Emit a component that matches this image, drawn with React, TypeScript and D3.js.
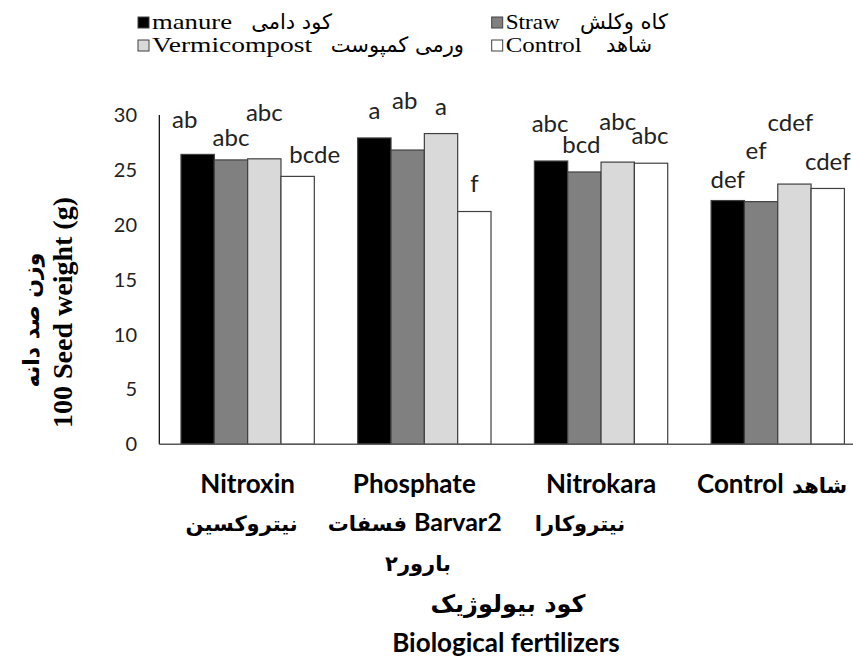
import React from 'react';
import * as d3 from 'd3';

const categories = ['Nitroxin', 'Phosphate', 'Nitrokara', 'Control'];
const categoriesFa = ['نیتروکسین', 'فسفات', 'نیتروکارا', 'شاهد'];
const seriesNames = ['manure', 'Straw', 'Vermicompost', 'Control'];
const seriesFa = ['کود دامی', 'کاه وکلش', 'ورمی کمپوست', 'شاهد'];
const manure = [26.4, 27.9, 25.8, 22.2];
const straw = [25.9, 26.8, 24.8, 22.1];
const vermicompost = [26.0, 28.3, 25.7, 23.7];
const control = [24.4, 21.2, 25.6, 23.3];
const manureLetters = ['ab', 'a', 'abc', 'def'];
const strawLetters = ['abc', 'ab', 'bcd', 'ef'];
const vermiLetters = ['abc', 'a', 'abc', 'cdef'];
const controlLetters = ['bcde', 'f', 'abc', 'cdef'];
const yTicks = [0, 5, 10, 15, 20, 25, 30];

// layout: label offsets (dx, dy) relative to bar top-centre
const labelOffsets = [
  [[-13, -26.4], [0, -19.4], [-1, -29.3], [0, -12.4]],
  [[0, -13.5], [-3, -41.4], [-3, -19.4], [-5, -43]],
  [[0, -38], [0, -18.3], [0, -31.7], [-4, -52.6]],
  [[17, -13.4], [0, -20], [-1, -19.7], [0, -18.3]],
];
const fills = ['#000000', '#808080', '#d9d9d9', '#ffffff'];

const W = 853;
const H = 661;
const left = 159.3;
const step = 176.7;
const baseY = 444.3;
const topY = 114.9;

const SANS = 'Lato, "Open Sans", sans-serif';
const FA = '"DejaVu Sans", sans-serif';
const SERIF = '"Liberation Serif", "Times New Roman", serif';

export default function App() {
  const values = [manure, straw, vermicompost, control];
  const letters = [manureLetters, strawLetters, vermiLetters, controlLetters];
  const x0 = d3
    .scaleBand<string>()
    .domain(categories)
    .range([left, left + step * categories.length])
    .paddingInner(0.2455)
    .paddingOuter(0.2455 / 2);
  const x1 = d3.scaleBand<string>().domain(seriesNames).range([0, x0.bandwidth()]);
  const y = d3.scaleLinear().domain([0, 30]).range([baseY, topY]);

  const legendCols = [138, 491.7];
  const legendRows = [17, 40];
  const engW = [80, 54, 160, 76];
  const faRight = [332, 668, 464, 652];

  return (
    <svg
      width={W}
      height={H}
      style={{ position: 'absolute', left: 0, top: 0, background: '#fff' }}
    >
      {/* legend */}
      {seriesNames.map((s, i) => {
        const col = i % 2;
        const row = Math.floor(i / 2);
        const lx = legendCols[col];
        const ly = legendRows[row];
        return (
          <g key={s}>
            <rect x={lx} y={ly} width={11} height={11} fill={fills[i]} stroke="#404040" strokeWidth={1} />
            <text
              x={lx + 14}
              y={ly + 12}
              fontFamily={SERIF}
              fontSize={21}
              textLength={engW[i]}
              lengthAdjust="spacingAndGlyphs"
            >
              {s}
            </text>
            <text x={faRight[i]} y={ly + 12} fontFamily={FA} fontSize={21} direction="rtl" textAnchor="start">
              {seriesFa[i]}
            </text>
          </g>
        );
      })}

      {/* y axis labels */}
      {yTicks.map((t) => (
        <text
          key={t}
          x={137}
          y={y(t) + 7}
          textAnchor="end"
          fontFamily={SANS}
          fontSize={20}
          fill="#222"
        >
          {t}
        </text>
      ))}

      {/* bars */}
      {categories.map((c, ci) => (
        <g key={c} transform={`translate(${x0(c)},0)`}>
          {seriesNames.map((s, si) => {
            const v = values[si][ci];
            return (
              <rect
                key={s}
                x={x1(s)}
                y={y(v)}
                width={x1.bandwidth()}
                height={baseY - y(v)}
                fill={fills[si]}
                stroke="#404040"
                strokeWidth={1.2}
              />
            );
          })}
          {seriesNames.map((s, si) => {
            const v = values[si][ci];
            const [dx, dy] = labelOffsets[si][ci];
            return (
              <text
                key={'l' + s}
                x={(x1(s) as number) + x1.bandwidth() / 2 + dx}
                y={y(v) + dy}
                textAnchor="middle"
                fontFamily={SANS}
                fontSize={24}
                fill="#222"
              >
                {letters[si][ci]}
              </text>
            );
          })}
        </g>
      ))}

      {/* axes */}
      <line x1={left} x2={left} y1={topY} y2={baseY} stroke="#000" strokeWidth={1.2} />
      <line x1={left} x2={left + step * 4} y1={baseY} y2={baseY} stroke="#595959" strokeWidth={1.5} />

      {/* x category labels */}
      {categories.map((c, ci) => {
        const cx = (x0(c) as number) + x0.bandwidth() / 2;
        if (ci === 3) {
          return (
            <g key={c}>
              <text x={697} y={493} fontFamily={SANS} fontWeight="bold" fontSize={26} textAnchor="start">
                {c}
              </text>
              <text x={792} y={493} fontFamily={FA} fontWeight="bold" fontSize={21} textAnchor="start">
                {categoriesFa[ci]}
              </text>
            </g>
          );
        }
        if (ci === 1) {
          return (
            <g key={c}>
              <text x={cx - 10} y={493} fontFamily={SANS} fontWeight="bold" fontSize={26} textAnchor="middle">
                {c}
              </text>
              <text x={407} y={531} fontFamily={FA} fontWeight="bold" fontSize={21} textAnchor="end">
                {categoriesFa[ci]}
              </text>
              <text x={414} y={531} fontFamily={SANS} fontWeight="bold" fontSize={25} textAnchor="start">
                Barvar2
              </text>
              <text x={418} y={571} fontFamily={FA} fontWeight="bold" fontSize={21} textAnchor="middle">
                بارور۲
              </text>
            </g>
          );
        }
        return (
          <g key={c}>
            <text x={cx} y={493} fontFamily={SANS} fontWeight="bold" fontSize={26} textAnchor="middle">
              {c}
            </text>
            <text x={ci === 0 ? cx - 6 : 580} y={531} fontFamily={FA} fontWeight="bold" fontSize={21} textAnchor="middle">
              {categoriesFa[ci]}
            </text>
          </g>
        );
      })}

      {/* x title */}
      <text x={508} y={612} fontFamily={FA} fontWeight="bold" fontSize={24} textAnchor="middle">
        کود بیولوژیک
      </text>
      <text x={506} y={652} fontFamily={SANS} fontWeight="bold" fontSize={26} textAnchor="middle">
        Biological fertilizers
      </text>

      {/* y title */}
      <text
        transform="translate(72,312.5) rotate(-90)"
        fontFamily={SERIF}
        fontWeight="bold"
        fontSize={28}
        textAnchor="middle"
      >
        100 Seed weight (g)
      </text>
      <text
        transform="translate(39,320) rotate(-90)"
        fontFamily={FA}
        fontWeight="bold"
        fontSize={22}
        textAnchor="middle"
      >
        وزن صد دانه
      </text>
    </svg>
  );
}
